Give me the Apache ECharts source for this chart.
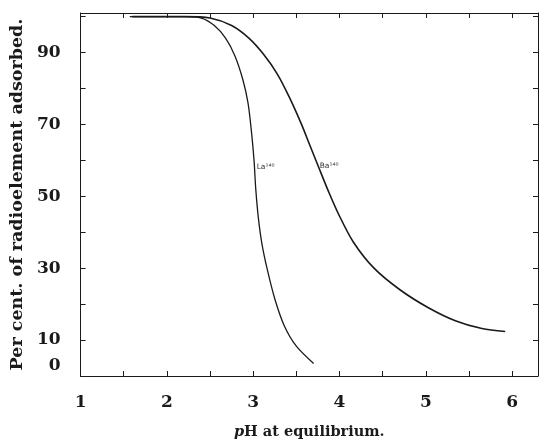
<!DOCTYPE html>
<html style="height: 100%">
   <head>
       <meta charset="utf-8">
       <script type="text/javascript" src="https://cdn.jsdelivr.net/npm/echarts/dist/echarts.min.js"></script>
   </head>
   <body style="height: 100%; margin: 0; background: #fff">
       <div id="chartContainer" style="width: 541px; height: 445px"></div>
   </body>
</html>
<script type="text/javascript">
    // La140 curve (left)
    var laPH = [1.57, 2.2, 2.4, 2.55, 2.68, 2.79, 2.88, 2.94, 2.98, 3.01, 3.03, 3.06, 3.1, 3.16, 3.25, 3.36, 3.5, 3.7];
    var laPct = [100, 100, 99.6, 97.5, 94, 89, 82.5, 76, 68, 60, 52, 44, 37, 30, 21.5, 14, 8.3, 3.5];
    // Ba140 curve (right)
    var baPH = [1.6, 2.2, 2.5, 2.75, 2.95, 3.12, 3.28, 3.42, 3.56, 3.66, 3.76, 3.87, 3.99, 4.16, 4.4, 4.7, 5.03, 5.35, 5.65, 5.92];
    var baPct = [100, 100, 99.6, 97.5, 94, 89.5, 84, 77.5, 70, 64, 58, 51.5, 45, 37.3, 30, 24, 19, 15.3, 13.2, 12.4];
    // curve labels
    var curveNames = ['La¹⁴⁰', 'Ba¹⁴⁰'];
    var labelAt = [[3.04, 58], [3.77, 58.5]];
    var yLabels = [0, 10, 30, 50, 70, 90];
    var xLabels = [1, 2, 3, 4, 5, 6];

    var dom = document.getElementById("chartContainer");
    var myChart = echarts.init(dom);
    var serif = 'DejaVu Serif';
    var ink = '#1a1a1a';

    function pairs(xs, ys) {
        var out = [];
        for (var i = 0; i < xs.length; i++) out.push([xs[i], ys[i]]);
        return out;
    }

    function curve(name, xs, ys, width, lbl) {
        return {
            name: name,
            type: 'line',
            smooth: 0.3,
            symbol: 'none',
            data: pairs(xs, ys),
            lineStyle: { color: ink, width: width },
            markPoint: {
                symbol: 'circle',
                symbolSize: 0,
                data: [{ coord: lbl, value: name }],
                label: {
                    show: true,
                    position: 'right',
                    distance: 0,
                    formatter: name,
                    fontFamily: 'DejaVu Sans',
                    fontSize: 7.5,
                    color: '#333'
                }
            }
        };
    }

    var tickStyle = { show: true, inside: true, length: 5, lineStyle: { color: ink, width: 1 } };

    var option = {
        animation: false,
        grid: { left: 72, right: 2, top: 13, bottom: 62 },
        xAxis: [{
            type: 'value',
            min: 1,
            max: 6.3,
            interval: 1,
            name: '{i|p}H at equilibrium.',
            nameLocation: 'middle',
            nameGap: 49,
            nameTextStyle: {
                fontFamily: serif, fontSize: 14.5, fontWeight: 'bold', color: ink,
                rich: { i: { fontFamily: serif, fontSize: 14.5, fontWeight: 'bold', fontStyle: 'italic', color: ink } }
            },
            axisLine: { lineStyle: { color: ink, width: 1 } },
            axisTick: tickStyle,
            minorTick: { show: true, splitNumber: 2, length: 5, lineStyle: { color: ink } },
            splitLine: { show: false },
            axisLabel: {
                margin: 18,
                fontFamily: serif, fontSize: 17, fontWeight: 'bold', color: ink,
                formatter: function (v) { return xLabels.indexOf(v) >= 0 ? String(v) : ''; }
            }
        }, {
            type: 'value',
            position: 'top',
            min: 1,
            max: 6.3,
            interval: 1,
            axisLine: { show: true, onZero: false, lineStyle: { color: ink, width: 1 } },
            axisTick: tickStyle,
            minorTick: { show: true, splitNumber: 2, length: 5, lineStyle: { color: ink } },
            axisLabel: { show: false },
            splitLine: { show: false }
        }],
        yAxis: [{
            type: 'value',
            min: 0,
            max: 101,
            interval: 10,
            name: 'Per cent. of radioelement adsorbed.',
            nameLocation: 'middle',
            nameGap: 43,
            nameTextStyle: { fontFamily: serif, fontSize: 17.5, fontWeight: 'bold', color: ink },
            axisLine: { show: true, lineStyle: { color: ink, width: 1 } },
            axisTick: tickStyle,
            splitLine: { show: false },
            axisLabel: {
                margin: 20,
                fontFamily: serif, fontSize: 17, fontWeight: 'bold', color: ink,
                formatter: function (v) {
                    if (v === 0) return '{z|0}';
                    return yLabels.indexOf(v) >= 0 ? String(v) : '';
                },
                rich: { z: { fontFamily: serif, fontSize: 17, fontWeight: 'bold', color: ink, padding: [0, 0, 20, 0] } }
            }
        }, {
            type: 'value',
            position: 'right',
            min: 0,
            max: 101,
            interval: 10,
            axisLine: { show: true, onZero: false, lineStyle: { color: ink, width: 1 } },
            axisTick: tickStyle,
            axisLabel: { show: false },
            splitLine: { show: false }
        }],
        series: [
            curve(curveNames[0], laPH, laPct, 1.3, labelAt[0]),
            curve(curveNames[1], baPH, baPct, 1.6, labelAt[1])
        ]
    };

    myChart.setOption(option, true);
</script>
